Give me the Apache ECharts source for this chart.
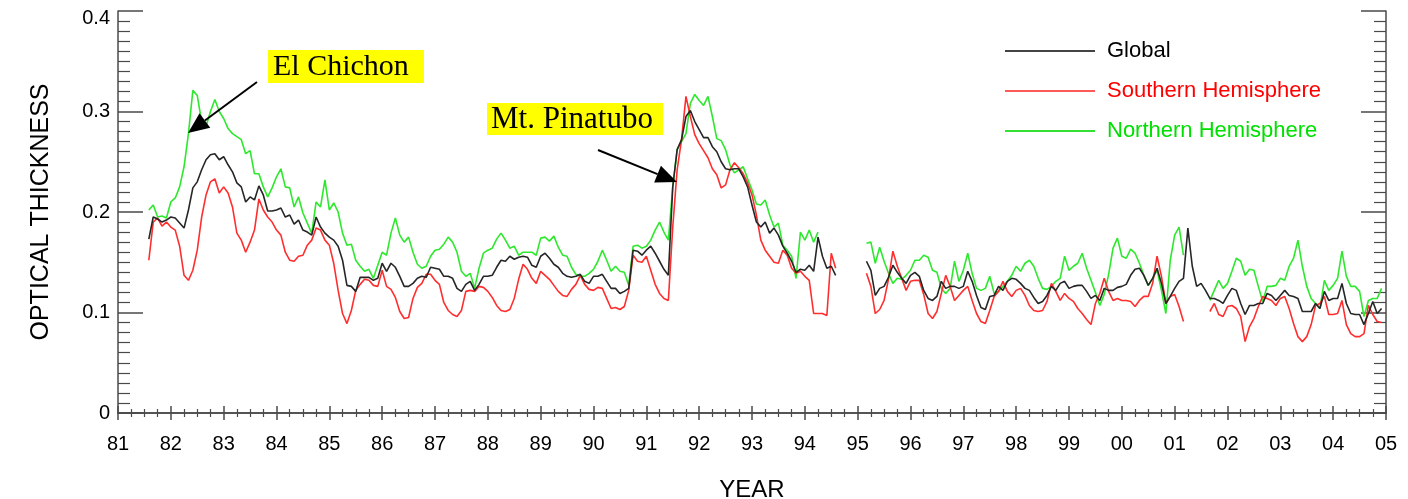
<!DOCTYPE html>
<html>
<head>
<meta charset="utf-8">
<script src="https://cdn.jsdelivr.net/npm/echarts@6/dist/echarts.min.js"></script>
<style>
html,body{margin:0;padding:0;background:#fff;}
#chart{width:1408px;height:499px;}
</style>
</head>
<body>
<div id="chart"></div>
<script>
// Monthly optical thickness, first value = Aug 1981 (month index 7 counted from Jan 1981)
const firstMonthIndex = 7;
const seriesNames = ['Global', 'Southern Hemisphere', 'Northern Hemisphere'];
const yTickLabels = ['0', '0.1', '0.2', '0.3', '0.4'];

const northern = [
  0.202,0.207,0.195,0.196,0.194,
  0.210,0.214,0.225,0.245,0.278,0.321,0.316,0.290,0.285,0.300,0.312,0.300,
  0.293,0.283,0.278,0.275,0.272,0.258,0.261,0.238,0.238,0.225,0.215,0.224,
  0.235,0.243,0.225,0.224,0.205,0.215,0.199,0.189,0.179,0.210,0.205,0.232,
  0.202,0.209,0.200,0.179,0.167,0.168,0.152,0.146,0.141,0.143,0.134,0.147,
  0.160,0.157,0.179,0.194,0.177,0.170,0.175,0.160,0.148,0.144,0.146,0.156,
  0.162,0.163,0.168,0.175,0.170,0.160,0.141,0.136,0.139,0.124,0.144,0.159,
  0.162,0.164,0.173,0.179,0.172,0.164,0.166,0.157,0.160,0.160,0.160,0.157,
  0.174,0.175,0.171,0.176,0.165,0.157,0.156,0.145,0.138,0.136,0.136,0.139,
  0.143,0.151,0.162,0.152,0.141,0.146,0.141,0.140,0.127,0.166,0.167,0.164,
  0.166,0.172,0.182,0.190,0.180,0.172,0.225,0.262,0.270,0.278,0.308,0.317,
  0.311,0.306,0.315,0.295,0.273,0.271,0.262,0.247,0.239,0.242,0.245,0.233,
  0.222,0.208,0.207,0.212,0.197,0.185,0.189,0.167,0.162,0.156,0.134,0.180,
  0.172,0.182,0.170,0.180,null,null,null,null,null,null,null,null,
  null,null,0.169,0.170,0.149,0.165,0.151,0.139,0.129,0.134,0.133,0.137,
  0.142,0.152,0.152,0.157,0.155,0.142,0.140,0.124,0.119,0.124,0.151,0.131,
  0.142,0.159,0.139,0.124,0.122,0.124,0.136,0.119,0.121,0.126,0.131,0.137,
  0.146,0.141,0.149,0.152,0.146,0.134,0.124,0.123,0.126,0.131,0.134,0.156,
  0.142,0.146,0.149,0.159,0.144,0.132,0.120,0.107,0.118,0.138,0.164,0.174,
  0.156,0.154,0.163,0.159,0.149,0.137,0.127,0.134,0.142,0.122,0.099,0.152,
  0.177,0.185,0.157,null,null,null,null,null,0.112,0.122,0.132,0.124,
  0.129,0.141,0.154,0.151,0.137,0.143,0.142,0.126,0.111,0.126,0.126,0.127,
  0.134,0.132,0.146,0.154,0.172,0.146,0.126,0.114,0.109,0.104,0.132,0.122,
  0.127,0.134,0.161,0.136,0.126,0.126,0.121,0.096,0.112,0.114,0.114,0.124
];

const globalMean = [
  0.173,0.195,0.193,0.190,0.192,
  0.195,0.194,0.189,0.184,0.202,0.224,0.230,0.242,0.252,0.257,0.258,0.252,
  0.255,0.247,0.240,0.229,0.225,0.210,0.215,0.212,0.226,0.217,0.201,0.201,
  0.202,0.204,0.195,0.197,0.188,0.192,0.182,0.180,0.177,0.195,0.185,0.179,
  0.175,0.172,0.166,0.152,0.127,0.126,0.121,0.135,0.135,0.135,0.132,0.134,
  0.149,0.141,0.149,0.145,0.136,0.126,0.126,0.129,0.134,0.136,0.135,0.145,
  0.144,0.143,0.136,0.136,0.134,0.124,0.121,0.128,0.131,0.122,0.128,0.136,
  0.136,0.137,0.145,0.152,0.151,0.156,0.153,0.155,0.156,0.155,0.147,0.145,
  0.156,0.159,0.154,0.148,0.145,0.139,0.136,0.135,0.136,0.138,0.131,0.129,
  0.136,0.136,0.138,0.131,0.124,0.124,0.119,0.121,0.124,0.162,0.161,0.157,
  0.162,0.166,0.159,0.151,0.143,0.137,0.225,0.262,0.272,0.295,0.301,0.290,
  0.282,0.274,0.274,0.265,0.260,0.250,0.243,0.242,0.243,0.243,0.235,0.225,
  0.207,0.190,0.185,0.190,0.179,0.184,0.177,0.166,0.159,0.151,0.140,0.143,
  0.142,0.147,0.141,0.175,0.156,0.144,0.146,0.137,null,null,null,null,
  null,null,0.151,0.142,0.117,0.124,0.126,0.135,0.147,0.140,0.134,0.129,
  0.137,0.140,0.136,0.122,0.114,0.112,0.116,0.131,0.124,0.126,0.126,0.124,
  0.126,0.141,0.131,0.117,0.105,0.103,0.116,0.117,0.126,0.122,0.131,0.134,
  0.133,0.129,0.124,0.122,0.115,0.109,0.111,0.117,0.126,0.122,0.129,0.131,
  0.124,0.126,0.127,0.127,0.121,0.114,0.117,0.112,0.124,0.122,0.122,0.125,
  0.126,0.128,0.137,0.143,0.144,0.137,0.127,0.134,0.144,0.129,0.109,0.116,
  0.124,0.131,0.134,0.184,0.146,0.126,0.129,0.122,0.114,0.114,0.112,0.109,
  0.117,0.124,0.122,0.109,0.098,0.107,0.107,0.109,0.109,0.119,0.117,0.112,
  0.117,0.122,0.117,0.116,0.114,0.101,0.101,0.101,0.109,0.104,0.121,0.112,
  0.114,0.114,0.129,0.109,0.099,0.098,0.098,0.088,0.099,0.111,0.099,0.104
];

const southern = [
  0.152,0.190,0.194,0.186,0.190,
  0.185,0.182,0.166,0.137,0.132,0.142,0.162,0.195,0.217,0.230,0.233,0.219,
  0.225,0.219,0.205,0.179,0.172,0.160,0.170,0.182,0.213,0.202,0.195,0.190,
  0.182,0.177,0.160,0.152,0.151,0.156,0.157,0.167,0.172,0.184,0.182,0.172,
  0.167,0.149,0.122,0.099,0.089,0.102,0.122,0.128,0.133,0.132,0.127,0.126,
  0.142,0.126,0.123,0.115,0.101,0.094,0.095,0.114,0.125,0.129,0.138,0.138,
  0.132,0.128,0.110,0.102,0.098,0.096,0.102,0.121,0.122,0.121,0.126,0.125,
  0.121,0.115,0.107,0.102,0.101,0.103,0.114,0.133,0.148,0.143,0.134,0.129,
  0.141,0.137,0.133,0.127,0.121,0.117,0.116,0.123,0.128,0.137,0.128,0.123,
  0.122,0.125,0.124,0.114,0.104,0.105,0.103,0.106,0.122,0.157,0.151,0.150,
  0.156,0.142,0.128,0.119,0.114,0.112,0.185,0.242,0.272,0.315,0.295,0.277,
  0.268,0.261,0.254,0.243,0.237,0.224,0.227,0.242,0.249,0.244,0.238,0.229,
  0.217,0.197,0.172,0.162,0.156,0.150,0.149,0.162,0.157,0.144,0.139,0.141,
  0.136,0.132,0.099,0.099,0.099,0.097,0.159,0.144,null,null,null,null,
  null,null,0.139,0.126,0.099,0.103,0.112,0.133,0.161,0.146,0.134,0.122,
  0.131,0.132,0.132,0.118,0.099,0.094,0.101,0.119,0.137,0.126,0.112,0.117,
  0.122,0.126,0.112,0.099,0.091,0.089,0.102,0.116,0.121,0.131,0.121,0.116,
  0.122,0.124,0.117,0.107,0.102,0.101,0.102,0.111,0.129,0.121,0.112,0.119,
  0.114,0.111,0.104,0.099,0.093,0.088,0.109,0.119,0.134,0.121,0.112,0.114,
  0.112,0.112,0.111,0.106,0.112,0.116,0.116,0.129,0.156,0.136,0.109,0.116,
  0.118,0.106,0.091,null,null,null,null,null,0.101,0.109,0.098,0.096,
  0.106,0.107,0.104,0.096,0.071,0.086,0.094,0.106,0.116,0.114,0.112,0.107,
  0.114,0.116,0.104,0.089,0.076,0.071,0.076,0.088,0.107,0.109,0.116,0.098,
  0.098,0.099,0.112,0.088,0.079,0.076,0.076,0.079,0.107,0.098,0.091,0.090
];

// time of each sample in years since 1900 (81 = 1981)
const times = northern.map((_, i) => 81 + (firstMonthIndex + i) / 12);
const toPairs = arr => arr.map((v, i) => [times[i], v == null ? '-' : v]);

const AXIS_COLOR = '#4a4a4a';
const FONT = '"Liberation Sans", Arial, Helvetica, sans-serif';
const SERIF = '"Liberation Serif", "Times New Roman", serif';

const chart = echarts.init(document.getElementById('chart'), null, {renderer: 'canvas'});

function arrow(sx, sy, tx, ty, headLen, headHalf) {
  const dx = tx - sx, dy = ty - sy, L = Math.hypot(dx, dy);
  const ux = dx / L, uy = dy / L;
  const bx = tx - ux * headLen, by = ty - uy * headLen;
  const nx = -uy, ny = ux;
  return [
    {type: 'line', shape: {x1: sx, y1: sy, x2: bx, y2: by}, style: {stroke: '#000', lineWidth: 2}, z: 100},
    {type: 'polygon', shape: {points: [[tx, ty], [bx + nx * headHalf, by + ny * headHalf], [bx - nx * headHalf, by - ny * headHalf]]}, style: {fill: '#000'}, z: 100}
  ];
}

function tagBox(x, y, w, h, text, fontSize, padLeft) {
  return [
    {type: 'rect', shape: {x: x, y: y, width: w, height: h}, style: {fill: '#ffff00'}, z: 90},
    {type: 'text', style: {text: text, x: x + padLeft, y: y + h / 2 + 1, font: fontSize + 'px ' + SERIF, fill: '#000', verticalAlign: 'middle', textVerticalAlign: 'middle', align: 'left'}, z: 95}
  ];
}

const baseX = {
  type: 'value', min: 81, max: 105, interval: 1,
  axisLine: {show: true, lineStyle: {color: AXIS_COLOR, width: 1.5}},
  axisTick: {show: true, inside: true, length: 7, lineStyle: {color: AXIS_COLOR, width: 1.5}},
  minorTick: {show: true, splitNumber: 4, length: 4, lineStyle: {color: AXIS_COLOR, width: 1.2}},
  splitLine: {show: false}
};
const baseY = {
  type: 'value', min: 0, max: 0.4, interval: 0.1,
  axisLine: {show: true, lineStyle: {color: AXIS_COLOR, width: 1.5}},
  axisTick: {show: true, inside: true, length: 25, lineStyle: {color: AXIS_COLOR, width: 1.5}},
  minorTick: {show: true, splitNumber: 10, length: 12, lineStyle: {color: AXIS_COLOR, width: 1.2}},
  splitLine: {show: false}
};

const option = {
  animation: false,
  backgroundColor: '#fff',
  grid: {left: 118, right: 22, top: 11, bottom: 86, containLabel: false, outerBoundsMode: 'none'},
  xAxis: [
    Object.assign({}, baseX, {
      position: 'bottom',
      name: 'YEAR', nameLocation: 'middle', nameGap: 65,
      nameTextStyle: {fontFamily: FONT, fontSize: 24, color: '#000'},
      axisLabel: {show: true, margin: 21, fontFamily: FONT, fontSize: 20, color: '#000',
        formatter: v => { const y = Math.round(v) % 100; return (y < 10 ? '0' : '') + y; }}
    }),
    Object.assign({}, baseX, {position: 'top', axisLabel: {show: false}})
  ],
  yAxis: [
    Object.assign({}, baseY, {
      position: 'left',
      name: 'OPTICAL THICKNESS', nameLocation: 'middle', nameGap: 64,
      nameTextStyle: {fontFamily: FONT, fontSize: 25, color: '#000'},
      axisLabel: {show: true, margin: 8, fontFamily: FONT, fontSize: 20, color: '#000',
        formatter: v => {
          const i = Math.round(v * 10);
          return i === 4 ? '{top|' + yTickLabels[i] + '}' : yTickLabels[i];
        },
        rich: {top: {fontFamily: FONT, fontSize: 20, color: '#000', padding: [14, 0, 0, 0]}}
      }
    }),
    Object.assign({}, baseY, {position: 'right', axisLabel: {show: false}})
  ],
  legend: {
    orient: 'vertical', left: 1005, top: 40, padding: 0,
    icon: 'rect', itemWidth: 90, itemHeight: 2, itemGap: 18,
    textStyle: {fontFamily: FONT, fontSize: 22, lineHeight: 22, padding: [0, 0, 0, 7]},
    data: [
      {name: seriesNames[0], textStyle: {color: '#000000'}, itemStyle: {color: '#444444'}},
      {name: seriesNames[1], textStyle: {color: '#ff0000'}, itemStyle: {color: '#ff5a5a'}},
      {name: seriesNames[2], textStyle: {color: '#00e000'}, itemStyle: {color: '#33e033'}}
    ]
  },
  series: [
    {name: seriesNames[2], type: 'line', data: toPairs(northern), symbol: 'none', connectNulls: false,
      lineStyle: {color: '#2ee82e', width: 1.6}, itemStyle: {color: '#2ee82e'}, z: 2},
    {name: seriesNames[1], type: 'line', data: toPairs(southern), symbol: 'none', connectNulls: false,
      lineStyle: {color: '#ff2e2e', width: 1.6}, itemStyle: {color: '#ff2e2e'}, z: 3},
    {name: seriesNames[0], type: 'line', data: toPairs(globalMean), symbol: 'none', connectNulls: false,
      lineStyle: {color: '#262626', width: 1.6}, itemStyle: {color: '#262626'}, z: 4}
  ],
  graphic: [].concat(
    tagBox(268, 50, 156, 33, 'El Chichon', 30, 5),
    tagBox(487, 103, 176, 32, 'Mt. Pinatubo', 31, 4),
    arrow(257, 82, 188, 133, 21, 9),
    arrow(598, 150, 677, 182, 21, 9)
  )
};
chart.setOption(option);
</script>
</body>
</html>
